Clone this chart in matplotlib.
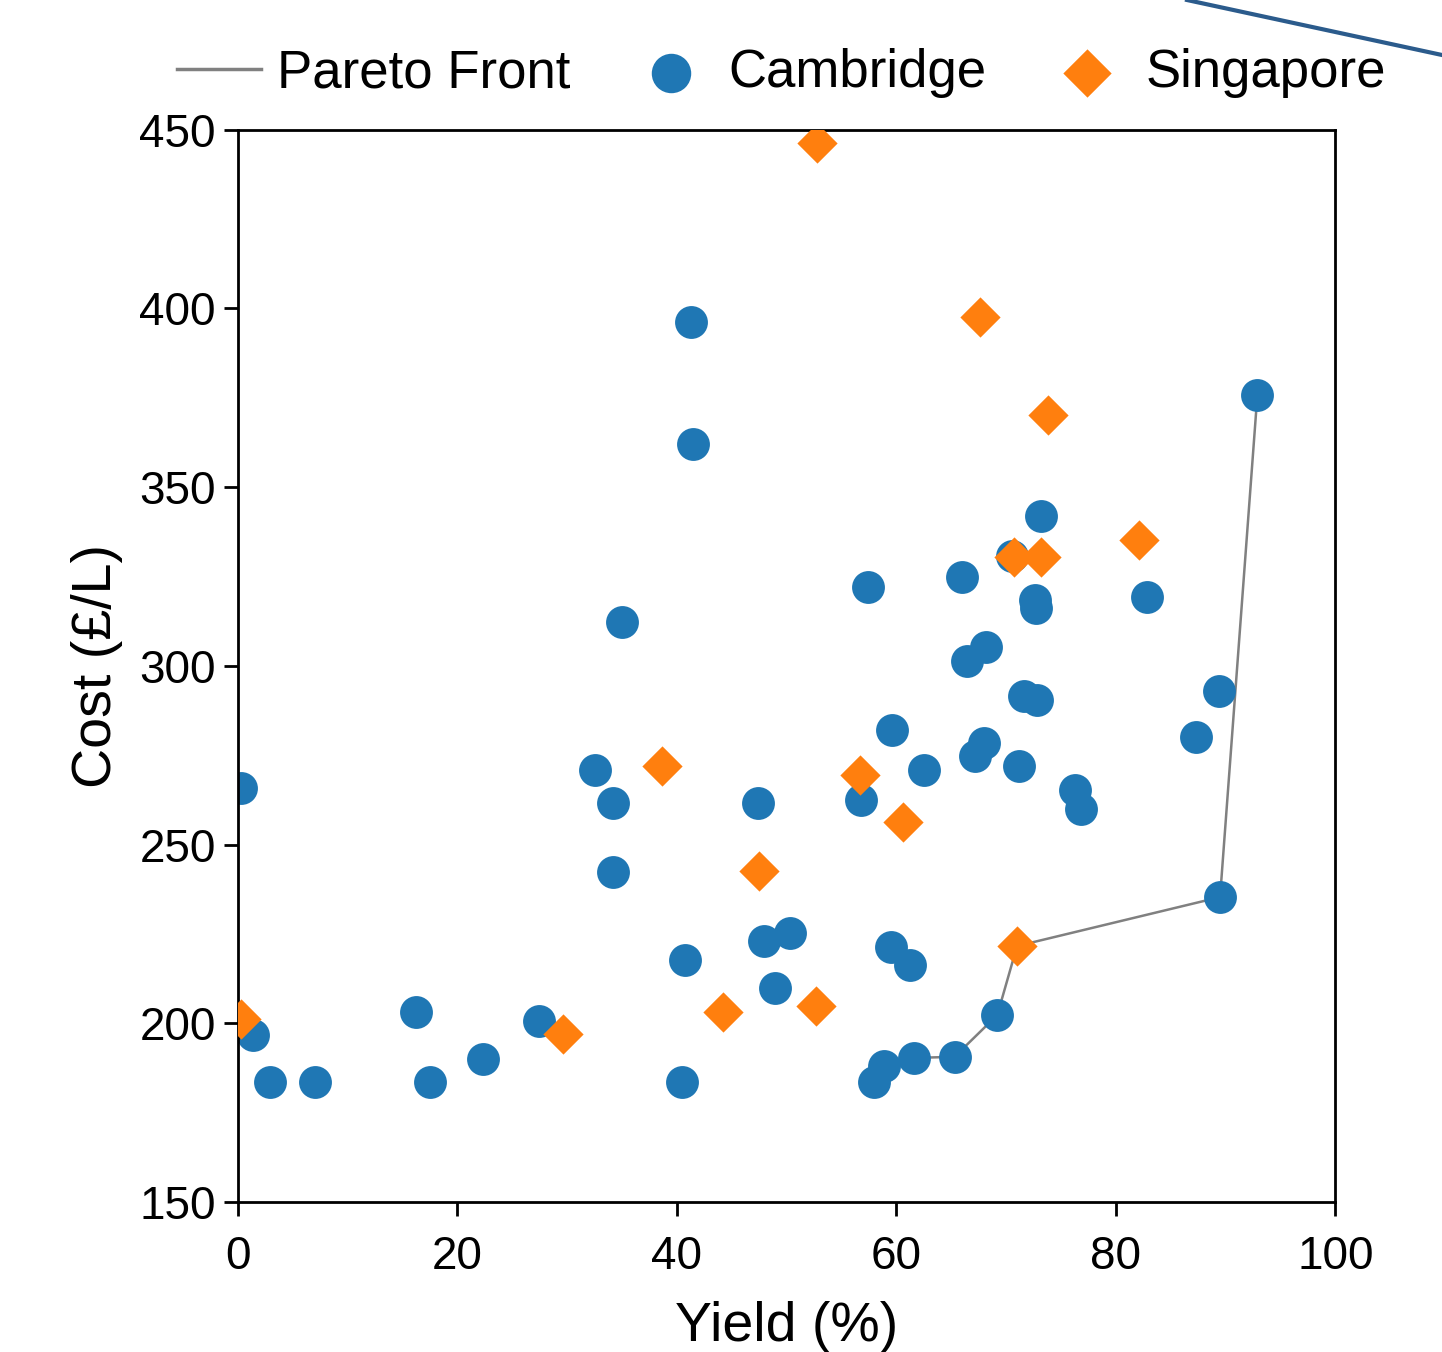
import matplotlib
matplotlib.use("Agg")
import matplotlib.pyplot as plt
from matplotlib.lines import Line2D

plt.rcParams['font.family'] = ['Liberation Sans', 'DejaVu Sans']

# -----------------------------
# Data
# -----------------------------
cam_yield = [0.3, 1.4, 2.9, 7.0, 16.2, 17.5, 22.3, 27.4, 32.5, 34.2,
             34.2, 35.0, 41.3, 41.5, 40.7, 40.5, 47.4, 47.9, 50.3, 48.9,
             57.4, 56.8, 59.6, 59.5, 61.2, 62.5, 58.0, 58.9, 61.6, 65.3,
             69.2, 66.0, 66.4, 68.2, 67.2, 68.0, 70.5, 73.2, 72.6, 72.7,
             71.6, 72.8, 71.2, 76.3, 76.8, 82.8, 87.3, 89.4, 89.5, 92.9]
cam_cost = [265.8, 196.7, 183.6, 183.6, 203.1, 183.6, 190.0, 200.6, 270.9, 261.6,
            242.3, 312.3, 396.3, 362.1, 217.7, 183.6, 261.6, 223.0, 225.3, 209.9,
            322.1, 262.5, 282.1, 221.3, 216.3, 270.9, 183.6, 188.0, 190.3, 190.6,
            202.3, 324.9, 301.4, 305.3, 274.8, 278.4, 330.8, 342.0, 318.5, 316.2,
            291.6, 290.5, 272.0, 265.3, 260.0, 319.3, 280.1, 293.0, 235.3, 375.8]

sgp_yield = [0.3, 29.6, 38.6, 44.2, 47.5, 52.7, 52.8, 56.7, 60.6, 67.6,
             73.8, 70.7, 73.2, 82.1, 71.0]
sgp_cost = [201.2, 197.0, 272.0, 203.1, 242.6, 204.8, 446.4, 269.5, 256.3, 397.7,
            370.2, 330.5, 330.5, 335.3, 221.6]

pareto_yield = [61.6, 65.3, 69.2, 71.0, 89.5, 92.9]
pareto_cost = [190.3, 190.6, 202.3, 221.6, 235.3, 375.8]

# -----------------------------
# Plot
# -----------------------------
fig = plt.figure(figsize=(14.42, 13.52), dpi=100)
ax = fig.add_axes([0.165, 0.111, 0.761, 0.793])

ax.plot(pareto_yield, pareto_cost, color="grey", lw=1.8, label="Pareto Front", zorder=1)
ax.scatter(cam_yield, cam_cost, s=560, color="#1f77b4", marker="o",
           label="Cambridge", zorder=2, linewidths=0)
ax.scatter(sgp_yield, sgp_cost, s=420, color="#ff7f0e", marker="D",
           label="Singapore", zorder=3, linewidths=0)

ax.set_xlim(0, 100)
ax.set_ylim(150, 450)
ax.set_xticks([0, 20, 40, 60, 80, 100])
ax.set_yticks([150, 200, 250, 300, 350, 400, 450])
ax.tick_params(labelsize=33, width=2, length=10)
ax.tick_params(axis="x", pad=14)
ax.tick_params(axis="y", pad=6)
for sp in ax.spines.values():
    sp.set_linewidth(2)

ax.set_xlabel("Yield (%)", fontsize=40, labelpad=16)
ax.set_ylabel("Cost (£/L)", fontsize=40, labelpad=12)

leg = ax.legend(loc="lower center", bbox_to_anchor=(0.495, 1.0), ncol=3, frameon=False,
                fontsize=38, markerscale=1.2, handlelength=1.6, columnspacing=1.1,
                handletextpad=0.3, borderaxespad=0.2)
leg.get_lines()[0].set_linewidth(2.5)

# stray line in the top right corner
fig.add_artist(Line2D([1187 / 1442, 1.0], [1.0, 1 - 55 / 1352],
                      color="#2b5b8c", lw=3, transform=fig.transFigure))

plt.savefig("out.png", dpi=100)
